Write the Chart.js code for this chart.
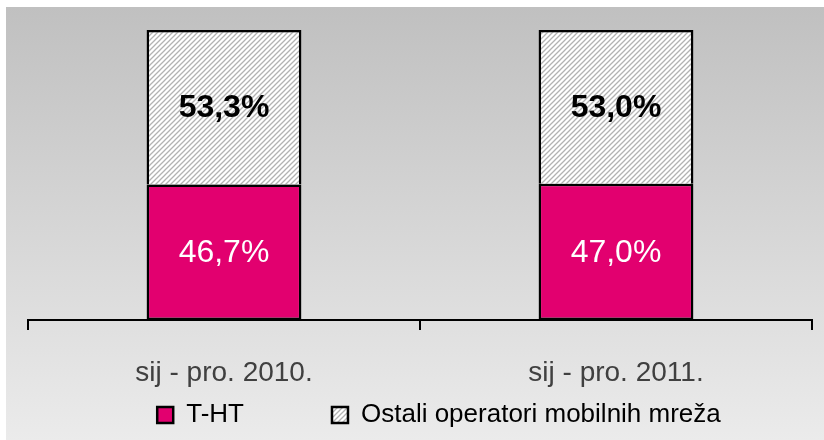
<!DOCTYPE html>
<html>
<head>
<meta charset="utf-8">
<script src="https://cdn.jsdelivr.net/npm/chart.js@4/dist/chart.umd.min.js"></script>
<style>
	html, body { margin: 0; padding: 0; background: #fff; }
	#wrap { width: 824px; height: 440px; }
</style>
</head>
<body>
<div id="wrap"><canvas id="shareChart" width="824" height="440"></canvas></div>
<script>
const categories = ['sij - pro. 2010.', 'sij - pro. 2011.']
const thtShare = [46.7, 47.0]
const otherShare = [53.3, 53.0]
const seriesNames = ['T-HT', 'Ostali operatori mobilnih mreža']

const labelFont = '"Liberation Sans", Arial, sans-serif'

// Diagonal hatch used for the other operators
function makeHatch() {
	const c = document.createElement('canvas')
	c.width = 5
	c.height = 5
	const g = c.getContext('2d')
	g.fillStyle = '#ffffff'
	g.fillRect(0, 0, 5, 5)
	g.strokeStyle = '#b2b2b2'
	g.lineWidth = 1.3
	g.beginPath()
	g.moveTo(-1, 6); g.lineTo(6, -1)
	g.moveTo(-1, 1); g.lineTo(1, -1)
	g.moveTo(4, 6); g.lineTo(6, 4)
	g.stroke()
	return g.createPattern(c, 'repeat')
}
const hatch = makeHatch()

const fmt = v => v.toFixed(1).replace('.', ',') + '%'

// Grey gradient panel behind everything
const panelBg = {
	id: 'panelBg',
	beforeDraw(chart) {
		const ctx = chart.ctx
		const grad = ctx.createLinearGradient(0, 7, 0, 440)
		grad.addColorStop(0, '#c0c0c0')
		grad.addColorStop(0.72, '#dfdfdf')
		grad.addColorStop(1, '#ebebeb')
		ctx.save()
		ctx.fillStyle = '#ffffff'
		ctx.fillRect(0, 0, chart.width, chart.height)
		ctx.fillStyle = grad
		ctx.fillRect(6, 7, chart.width - 6, chart.height - 7)
		ctx.restore()
	}
}

// Percent labels inside each segment
const segLabels = {
	id: 'segLabels',
	afterDatasetsDraw(chart) {
		const ctx = chart.ctx
		ctx.save()
		ctx.textAlign = 'center'
		ctx.textBaseline = 'middle'
		chart.data.datasets.forEach((ds, i) => {
			const meta = chart.getDatasetMeta(i)
			meta.data.forEach((bar, j) => {
				const mid = (bar.y + bar.base) / 2
				if (i === 0) {
					ctx.fillStyle = '#ffffff'
					ctx.font = '32px ' + labelFont
				} else {
					ctx.fillStyle = '#000000'
					ctx.font = 'bold 32px ' + labelFont
				}
				ctx.fillText(fmt(ds.data[j]), bar.x, mid + 1)
			})
		})
		ctx.restore()
	}
}

// nudge the legend row a bit to the right, like the original
const legendShift = {
	id: 'legendShift',
	afterLayout(chart) {
		chart.legend.left += 19
		chart.legend.right += 19
	}
}

new Chart(document.getElementById('shareChart'), {
	type: 'bar',
	data: {
		labels: categories,
		datasets: [{
			label: seriesNames[0],
			data: thtShare,
			backgroundColor: '#e2006f',
			borderColor: '#000000',
			borderWidth: 2.5,
			borderSkipped: false
		}, {
			label: seriesNames[1],
			data: otherShare,
			backgroundColor: hatch,
			borderColor: '#000000',
			borderWidth: 2.5,
			borderSkipped: 'bottom'
		}]
	},
	options: {
		responsive: false,
		animation: false,
		barPercentage: 0.395,
		categoryPercentage: 1,
		layout: {
			padding: { top: 30, left: 28, right: 12, bottom: 2 }
		},
		scales: {
			x: {
				stacked: true,
				grid: {
					drawOnChartArea: false,
					color: '#000000',
					lineWidth: 2,
					tickLength: 10,
					offset: true
				},
				border: { color: '#000000', width: 2 },
				ticks: {
					color: '#404040',
					padding: 26,
					font: { family: labelFont, size: 28 }
				},
				afterFit(scale) { scale.height = 72 }
			},
			y: {
				stacked: true,
				display: false,
				min: 0,
				max: 100
			}
		},
		plugins: {
			legend: {
				position: 'bottom',
				labels: {
					color: '#000000',
					boxWidth: 16,
					boxHeight: 16,
					padding: 10,
					font: { family: labelFont, size: 26 },
					generateLabels(chart) {
						const items = Chart.defaults.plugins.legend.labels.generateLabels(chart)
						// wide gap after the first entry
						items[0].text = items[0].text + '\u2003\u2003\u2003'
						return items
					}
				}
			},
			tooltip: { enabled: false }
		}
	},
	plugins: [panelBg, segLabels, legendShift]
})
</script>
</body>
</html>
